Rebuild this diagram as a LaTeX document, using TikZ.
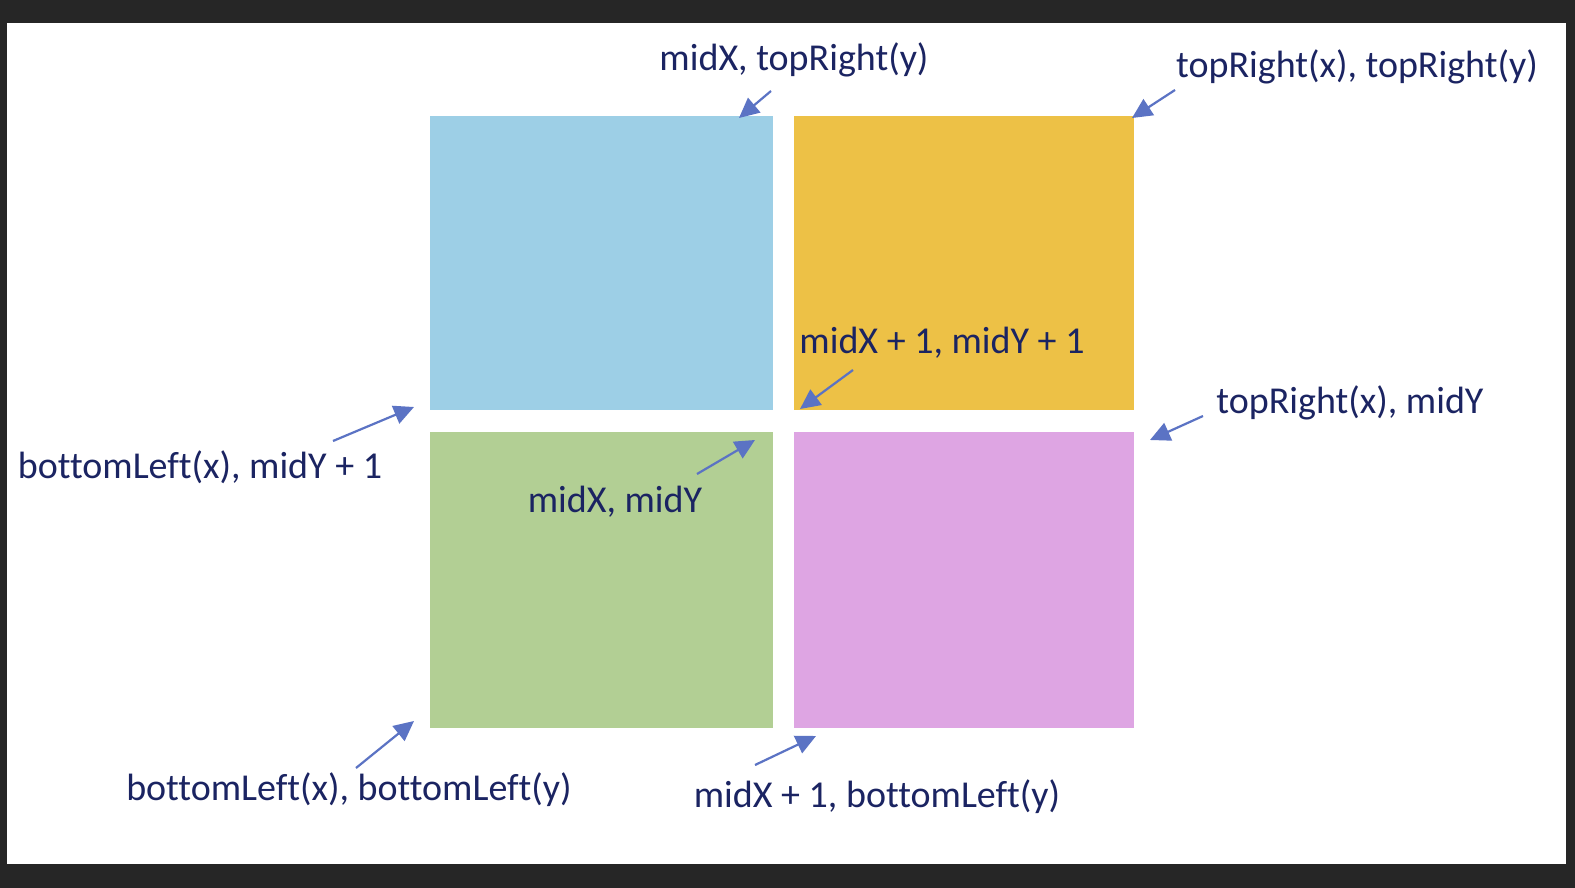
\documentclass[tikz,border=0pt]{standalone}
\usepackage{fontspec}
\setmainfont{Carlito}[Ligatures=NoCommon]
\usetikzlibrary{arrows.meta}
\definecolor{frame}{HTML}{262626}
\definecolor{txt}{HTML}{1B2462}
\definecolor{arr}{HTML}{5B73C4}
\definecolor{cblue}{HTML}{9DCFE6}
\definecolor{corange}{HTML}{EDC146}
\definecolor{cgreen}{HTML}{B2CF94}
\definecolor{cpurple}{HTML}{DEA5E3}
\begin{document}
\begin{tikzpicture}[x=1pt,y=-1pt,
  lbl/.style={anchor=base,inner sep=0pt,text=txt,font=\fontsize{38}{44}\selectfont},
  pointer/.style={draw=arr,line width=2.2pt,-{Triangle[length=20pt,width=19pt]}}]
\useasboundingbox (0,0) rectangle (1575,888);
\fill[frame] (0,0) rectangle (1575,888);
\fill[white] (7,23) rectangle (1566,864);
% quadrants
\fill[cblue] (430,116) rectangle (773,410);
\fill[corange] (794,116) rectangle (1134,410);
\fill[cgreen] (430,432) rectangle (773,728);
\fill[cpurple] (794,432) rectangle (1134,728);
% labels
\node[lbl] (l1) at (794,71) {midX, topRight(y)};
\node[lbl] (l2) at (1357,78) {topRight(x), topRight(y)};
\node[lbl] (l3) at (942,353) {midX + 1, midY + 1};
\node[lbl] (l4) at (1350,413) {topRight(x), midY};
\node[lbl] (l5) at (200,478) {bottomLeft(x), midY + 1};
\node[lbl] (l6) at (615,512) {midX, midY};
\node[lbl] (l7) at (349,800) {bottomLeft(x), bottomLeft(y)};
\node[lbl] (l8) at (877,807) {midX + 1, bottomLeft(y)};
% arrow endpoints
\coordinate (a1s) at (771,91);  \coordinate (a1e) at (739,118);
\coordinate (a2s) at (1175,90); \coordinate (a2e) at (1132,118);
\coordinate (a3s) at (853,370); \coordinate (a3e) at (800,409);
\coordinate (a4s) at (1203,416);\coordinate (a4e) at (1150,440);
\coordinate (a5s) at (333,441); \coordinate (a5e) at (414,407);
\coordinate (a6s) at (697,474); \coordinate (a6e) at (755,440);
\coordinate (a7s) at (356,768); \coordinate (a7e) at (414,721);
\coordinate (a8s) at (755,765); \coordinate (a8e) at (816,736);
\foreach \i in {1,...,8} {\draw[pointer] (a\i s) -- (a\i e);}
\end{tikzpicture}
\end{document}
